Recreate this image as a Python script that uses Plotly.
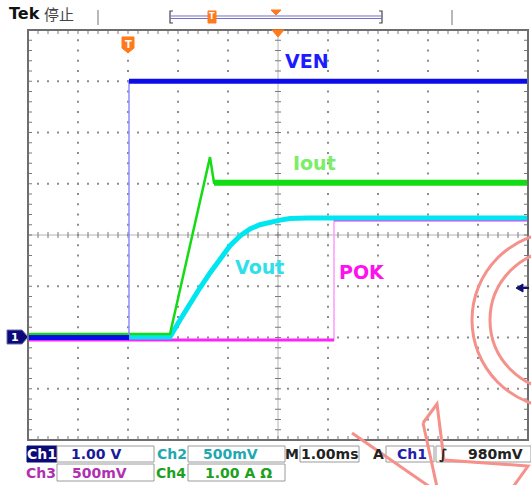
import numpy as np
import plotly.graph_objects as go

# ---------------- Data (time in ms, 1.00 ms/div) ----------------
ven_t = [-5.0, -2.98, -2.98, 5.0]
ven_v = [0.0, 0.0, 5.0, 5.0]            # Ch1, 1.00 V/div

iout_t = [-5.0, -2.16, -1.36, -1.28, 5.0]
iout_a = [0.0, 0.0, 3.45, 2.95, 2.95]   # Ch4, 1.00 A/div

vout_t = [-5.0, -2.16, -1.96, -1.76, -1.56, -1.36, -1.16, -0.96, -0.76,
          -0.56, -0.36, -0.16, 0.04, 0.24, 0.6, 5.0]
vout_v = [0.0, 0.0, 0.165, 0.33, 0.48, 0.625, 0.76, 0.89, 0.985,
          1.055, 1.095, 1.12, 1.14, 1.155, 1.16, 1.16]   # Ch2, 500 mV/div

pok_t = [-5.0, 1.12, 1.12, 5.0]
pok_v = [0.0, 0.0, 1.17, 1.17]          # Ch3, 500 mV/div

# channel vertical scale (units/div) and position (div)
ch_scale = {"VEN": 1.0, "Iout": 1.0, "Vout": 0.5, "POK": 0.5}
ch_pos = {"VEN": -2.0, "Iout": -1.93, "Vout": -1.99, "POK": -2.05}

trace_labels = ["VEN", "Iout", "Vout", "POK"]

row1_labels = ["Ch1", "1.00 V", "Ch2", "500mV", "M", "1.00ms", "A", "Ch1", "\u222b", "980mV"]
row2_labels = ["Ch3", "500mV", "Ch4", "1.00 A \u03a9"]

# ---------------- helpers ----------------
X0, X1, Y0, Y1 = 28, 528, 30, 440
W, H = 531, 485


def px(x):
    return (x - X0) / (X1 - X0)


def py(y):
    return (Y1 - y) / (Y1 - Y0)


def to_div(vals, ch):
    return [ch_pos[ch] + v / ch_scale[ch] for v in vals]


fig = go.Figure()

# ---------------- graticule ----------------
steps_x = np.round(np.arange(-5, 5.0001, 0.2), 3)
steps_y = np.round(np.arange(-4, 4.0001, 0.2), 3)
gx, gy = [], []
for v in [-4, -3, -2, -1, 1, 2, 3, 4]:
    for s in steps_y:
        gx.append(v); gy.append(s)
for h in [-3, -2, -1, 1, 2, 3]:
    for s in steps_x:
        gx.append(s); gy.append(h)
fig.add_trace(go.Scatter(x=gx, y=gy, mode="markers",
                         marker=dict(symbol="square", size=2, color="#8c8c8c", line=dict(width=0)),
                         hoverinfo="skip", showlegend=False))

# center cross lines
fig.add_trace(go.Scatter(x=[-5, 5, None, 0, 0], y=[0, 0, None, -4, 4], mode="lines",
                         line=dict(color="#b4b4b4", width=1), hoverinfo="skip", showlegend=False))
tx, ty = [], []
tlx, tly = 0.08, 4 / 51.25
for s in steps_x[1:-1]:
    tx += [s, s, None]; ty += [-0.06, 0.06, None]
    tx += [s, s, None]; ty += [4, 4 - tly, None]
    tx += [s, s, None]; ty += [-4, -4 + tly, None]
for s in steps_y[1:-1]:
    tx += [-0.06, 0.06, None]; ty += [s, s, None]
    tx += [-5, -5 + tlx, None]; ty += [s, s, None]
    tx += [5, 5 - tlx, None]; ty += [s, s, None]
fig.add_trace(go.Scatter(x=tx, y=ty, mode="lines", line=dict(color="#7a7a7a", width=1),
                         hoverinfo="skip", showlegend=False))

# ---------------- waveforms ----------------
pok_d = to_div(pok_v, "POK")
fig.add_trace(go.Scatter(x=pok_t, y=pok_d, mode="lines", line=dict(color="#ff99ff", width=1.5),
                         hoverinfo="skip", showlegend=False))
fig.add_trace(go.Scatter(x=pok_t[:2], y=pok_d[:2], mode="lines", line=dict(color="#ff22ff", width=3),
                         hoverinfo="skip", showlegend=False))
fig.add_trace(go.Scatter(x=pok_t[2:], y=pok_d[2:], mode="lines", line=dict(color="#ff22ff", width=2.5),
                         hoverinfo="skip", showlegend=False))

vout_d = to_div(vout_v, "Vout")
fig.add_trace(go.Scatter(x=vout_t, y=vout_d, mode="lines", line=dict(color="#00e6f0", width=5),
                         hoverinfo="skip", showlegend=False))

iout_d = to_div(iout_a, "Iout")
fig.add_trace(go.Scatter(x=iout_t, y=iout_d, mode="lines", line=dict(color="#14dc14", width=2.5),
                         hoverinfo="skip", showlegend=False))
fig.add_trace(go.Scatter(x=iout_t[3:], y=iout_d[3:], mode="lines", line=dict(color="#14dc14", width=6),
                         hoverinfo="skip", showlegend=False))

ven_d = to_div(ven_v, "VEN")
fig.add_trace(go.Scatter(x=ven_t[1:3], y=ven_d[1:3], mode="lines", line=dict(color="#8c8cff", width=1.5),
                         hoverinfo="skip", showlegend=False))
fig.add_trace(go.Scatter(x=ven_t[:2], y=ven_d[:2], mode="lines", line=dict(color="#0c0cea", width=5),
                         hoverinfo="skip", showlegend=False))
fig.add_trace(go.Scatter(x=ven_t[2:], y=ven_d[2:], mode="lines", line=dict(color="#0c0cea", width=5),
                         hoverinfo="skip", showlegend=False))

# ---------------- shapes ----------------
shapes = []


def rect(x0, y0, x1, y1, line="#9a9a9a", fill="white", lw=1):
    shapes.append(dict(type="rect", xref="paper", yref="paper", x0=px(x0), x1=px(x1),
                       y0=py(y1), y1=py(y0), line=dict(color=line, width=lw), fillcolor=fill,
                       layer="above"))


def path(points, color, fill=None, lw=1, close=False):
    d = "M " + " L ".join(f"{px(a):.5f},{py(b):.5f}" for a, b in points)
    if close:
        d += " Z"
    shapes.append(dict(type="path", xref="paper", yref="paper", path=d,
                       line=dict(color=color, width=lw), fillcolor=fill if fill else "rgba(0,0,0,0)",
                       layer="above"))


# frame
shapes.append(dict(type="rect", xref="paper", yref="paper", x0=0, x1=1, y0=0, y1=1,
                   line=dict(color="#6e6e6e", width=2), layer="above"))

# top status bar
path([(98, 10), (98, 25)], "#a0a0a0", lw=1.5)
path([(452, 10), (452, 25)], "#a0a0a0", lw=1.5)
path([(173, 11), (170, 11), (170, 23), (173, 23)], "#444444", lw=1.2)
path([(379, 11), (382, 11), (382, 23), (379, 23)], "#444444", lw=1.2)
path([(170, 16), (382, 16)], "#7070c8", lw=1)
path([(170, 18.5), (382, 18.5)], "#7070c8", lw=1)
shapes.append(dict(type="rect", xref="paper", yref="paper", x0=px(208), x1=px(216),
                   y0=py(23), y1=py(11), line=dict(color="#ff7a1a", width=1), fillcolor="#ff7a1a",
                   layer="above"))
path([(271, 10), (281, 10), (276, 15)], "#ff7a1a", fill="#ff7a1a", close=True)
path([(272, 30), (284, 30), (278, 37)], "#ff7a1a", fill="#ff7a1a", close=True)

# trigger position marker in plot
path([(122, 37), (134, 37), (134, 48), (128, 53), (122, 48)], "#ff7a1a", fill="#ff7a1a", close=True)

# channel 1 ground marker
path([(7, 330), (22, 330), (28, 337), (22, 344), (7, 344)], "#6a6ab0", fill="#0a0a78", close=True)

# trigger level arrow (right)
path([(516, 288), (523, 284), (523, 292)], "#101070", fill="#101070", close=True)
path([(522, 288), (529, 288)], "#101070", lw=2)

# bottom readout boxes
rect(27, 446, 57, 462, line="#0a0a78", fill="#0a0a78")
rect(57, 446, 154, 462)
rect(188, 446, 285, 462)
rect(300, 446, 359, 462)
rect(386, 446, 434, 462)
rect(436, 446, 531, 462)
rect(57, 464, 154, 481)
rect(188, 464, 285, 481)

# watermark
wm = "#f5918a"
shapes.append(dict(type="circle", xref="paper", yref="paper", x0=px(472), x1=px(648),
                   y0=py(408), y1=py(232), line=dict(color=wm, width=3), layer="above"))
shapes.append(dict(type="circle", xref="paper", yref="paper", x0=px(490), x1=px(630),
                   y0=py(390), y1=py(250), line=dict(color=wm, width=3), layer="above"))
path([(423, 423), (437, 404), (444, 460), (528, 466), (513, 487)], wm, lw=3)
path([(423, 423), (437, 487)], wm, lw=3)
path([(352, 433), (430, 487)], wm, lw=3)

fig.update_layout(shapes=shapes)

# ---------------- annotations ----------------
def ann(text, x, y, color, size, family="DejaVu Sans", bold=True):
    t = f"<b>{text}</b>" if bold else text
    fig.add_annotation(x=px(x), y=py(y), xref="paper", yref="paper", text=t, showarrow=False,
                       font=dict(color=color, size=size, family=family),
                       xanchor="center", yanchor="middle")


# trace labels
label_pos = {"VEN": (307, 61), "Iout": (314, 163), "Vout": (259, 267), "POK": (362, 272)}
label_col = {"VEN": "#1c1cff", "Iout": "#7aee66", "Vout": "#2ee0ea", "POK": "#ff10f0"}
for lab in trace_labels:
    ann(lab, *label_pos[lab], label_col[lab], 19)

# header
ann("Tek", 24, 14, "#111111", 16)
ann("停止", 59, 14, "#444444", 15, family="Noto Sans CJK SC", bold=False)
ann("T", 128, 44, "white", 10)
ann("T", 212, 17, "white", 8)
ann("1", 15, 337, "white", 11)

# readouts row 1
row1_pos = [42, 96, 172, 230, 292, 329, 378, 412, 443, 495]
row1_col = ["white", "#1a1a9a", "#1fa8b0", "#1fa8b0", "#222222", "#222222", "#222222",
            "#2020b0", "#222222", "#222222"]
for t, x, c in zip(row1_labels, row1_pos, row1_col):
    ann(t, x, 454, c, 14)

row2_pos = [41, 99, 171, 238]
row2_col = ["#b030b0", "#b030b0", "#20a020", "#20a020"]
for t, x, c in zip(row2_labels, row2_pos, row2_col):
    ann(t, x, 473, c, 14)

fig.update_layout(
    width=W, height=H,
    margin=dict(l=X0, r=W - X1, t=Y0, b=H - Y1, pad=0),
    paper_bgcolor="white", plot_bgcolor="white",
    xaxis=dict(range=[-5, 5], showgrid=False, zeroline=False, showticklabels=False,
               ticks="", fixedrange=True),
    yaxis=dict(range=[-4, 4], showgrid=False, zeroline=False, showticklabels=False,
               ticks="", fixedrange=True),
    showlegend=False,
)

fig.write_html("out.html", config={"displayModeBar": False},
               post_script="document.body.style.margin='0';document.body.style.overflow='hidden';")
